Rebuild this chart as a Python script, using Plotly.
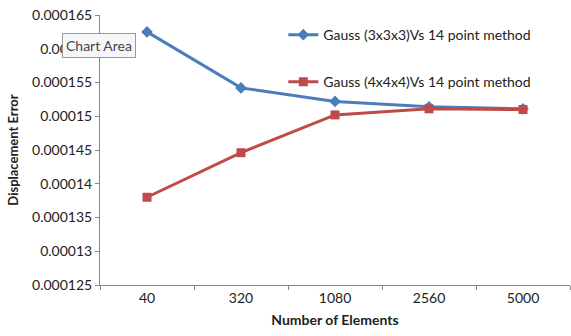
import plotly.graph_objects as go

categories = ["40", "320", "1080", "2560", "5000"]
gauss3 = [0.0001625, 0.0001542, 0.0001522, 0.0001514, 0.0001511]
gauss4 = [0.000138, 0.0001446, 0.0001502, 0.0001511, 0.000151]
ytick_vals = [0.000125, 0.00013, 0.000135, 0.00014, 0.000145, 0.00015, 0.000155, 0.00016, 0.000165]
ytick_text = ["0.000125", "0.00013", "0.000135", "0.00014", "0.000145", "0.00015", "0.000155", "0.00016", "0.000165"]

FONT = "Lato"
fig = go.Figure()
fig.add_trace(go.Scatter(x=categories, y=gauss3, mode="lines+markers",
                         name="Gauss (3x3x3)Vs 14 point method", legendgroup="a",
                         line=dict(color="#4a7ebb", width=3),
                         marker=dict(symbol="diamond", size=9, color="#4a7ebb")))
fig.add_trace(go.Scatter(x=categories, y=gauss4, mode="lines+markers",
                         name="Gauss (4x4x4)Vs 14 point method", legendgroup="b",
                         line=dict(color="#be4b48", width=3),
                         marker=dict(symbol="square", size=9, color="#be4b48")))

fig.update_layout(
    width=571, height=336,
    margin=dict(l=100, r=1, t=15, b=51),
    paper_bgcolor="white", plot_bgcolor="white",
    font=dict(family=FONT, size=14, color="#222"),
    legend=dict(x=0.39, y=0.985, xanchor="left", yanchor="top", bgcolor="rgba(0,0,0,0)",
                tracegroupgap=26, traceorder="grouped", font=dict(size=14, family=FONT),
                itemwidth=30),
    xaxis=dict(type="category", range=[-0.5, 4.5], showgrid=False, showline=True,
               linecolor="#868686", linewidth=1, ticks="outside", tickson="boundaries",
               ticklen=4, tickcolor="#868686", tickfont=dict(size=14),
               title=dict(text="<b>Number of Elements</b>", font=dict(size=14), standoff=10)),
    yaxis=dict(range=[0.000125, 0.000165], showgrid=False, showline=True,
               linecolor="#868686", linewidth=1, ticks="outside", ticklen=4,
               tickcolor="#868686", tickvals=ytick_vals, ticktext=ytick_text,
               tickfont=dict(size=14), zeroline=False,
               title=dict(text="<b>Displacement Error</b>", font=dict(size=13), standoff=10)),
)
fig.add_annotation(text="Chart Area", xref="paper", yref="paper", x=-0.081, y=0.888,
                   xanchor="left", yanchor="middle", showarrow=False,
                   font=dict(size=14, family=FONT, color="#444"),
                   bgcolor="#f7f7fa", bordercolor="#9a9a9a", borderwidth=1, borderpad=3)
fig.write_html("out.html")
